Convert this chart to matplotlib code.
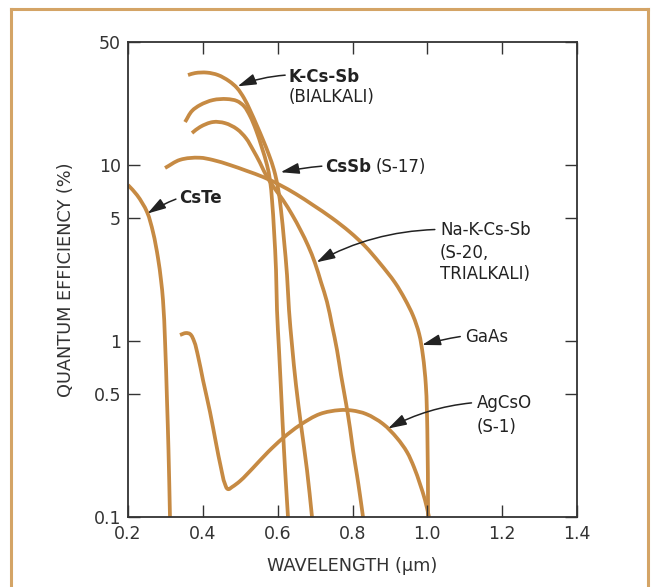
import matplotlib
matplotlib.use("Agg")
import numpy as np
import matplotlib.pyplot as plt
from matplotlib.lines import Line2D
from matplotlib.path import Path
from matplotlib.patches import PathPatch

plt.rcParams['font.family'] = ['DejaVu Sans']

# ---------------- data ----------------
cste_x = [0.2, 0.2241, 0.2508, 0.2668, 0.2802, 0.2882, 0.2935, 0.2989, 0.3042, 0.3082, 0.3122]
cste_y = [7.70, 6.75, 5.41, 4.16, 2.96, 2.22, 1.71, 1.01, 0.462, 0.240, 0.1]

bialkali_x = [0.3604, 0.3791, 0.4111, 0.4405, 0.4699, 0.4913, 0.5100, 0.5261, 0.5448,
              0.5608, 0.5768, 0.5902, 0.6009, 0.6089, 0.6169, 0.6250, 0.6303, 0.6383,
              0.6490, 0.6624, 0.6784, 0.6918]
bialkali_y = [32.45, 33.3, 33.5, 32.45, 30.0, 27.4, 24.0, 20.5, 16.7,
              13.9, 11.4, 9.37, 7.40, 5.55, 3.75, 2.37, 1.50, 0.949,
              0.562, 0.333, 0.185, 0.1]

cssb_x = [0.3525, 0.3711, 0.3924, 0.4272, 0.4646, 0.4913, 0.5100, 0.5261, 0.5421,
          0.5581, 0.5715, 0.5795, 0.5849, 0.5902, 0.5956, 0.5982, 0.6036, 0.6089,
          0.6169, 0.6223, 0.6276]
cssb_y = [17.55, 20.3, 21.9, 23.4, 23.7, 23.1, 21.6, 19.0, 15.8,
          12.5, 10.0, 8.22, 6.32, 4.27, 2.53, 1.50, 0.889, 0.527,
          0.240, 0.152, 0.1]

s20_x = [0.3711, 0.3924, 0.4272, 0.4592, 0.4913, 0.5154, 0.5341, 0.5528, 0.5715,
         0.5929, 0.6143, 0.6391, 0.6610, 0.6816, 0.6998, 0.7158, 0.7318, 0.7452,
         0.7586, 0.7693, 0.7826, 0.7933, 0.8013, 0.8120, 0.8200, 0.8281]
s20_y = [15.2, 16.44, 17.55, 17.3, 16.0, 14.2, 12.2, 10.3, 8.55,
         7.31, 6.32, 5.20, 4.27, 3.47, 2.77, 2.16, 1.67, 1.23,
         0.889, 0.641, 0.444, 0.320, 0.240, 0.173, 0.133, 0.1]

gaas_x = [0.299, 0.339, 0.392, 0.427, 0.4726, 0.518, 0.561, 0.606, 0.649, 0.694,
          0.745, 0.793, 0.833, 0.873, 0.914, 0.940, 0.962, 0.978, 0.988, 0.996,
          1.000, 1.002]
gaas_y = [9.62, 10.7, 11.0, 10.68, 10.0, 9.25, 8.55, 7.70, 6.84, 5.93,
          5.00, 4.16, 3.47, 2.77, 2.14, 1.73, 1.39, 1.10, 0.833, 0.562,
          0.312, 0.1]

agcso_x = [0.339, 0.355, 0.3657, 0.3764, 0.3871, 0.4004, 0.4192, 0.4352, 0.4486, 0.4592,
           0.4673, 0.4780, 0.4993, 0.5341, 0.5742, 0.6143, 0.6597, 0.7131, 0.7666,
           0.7986, 0.8361, 0.8815, 0.9189, 0.9456, 0.9643, 0.9804, 0.9937, 1.0045]
agcso_y = [1.082, 1.11, 1.096, 1.0, 0.822, 0.600, 0.395, 0.263, 0.190, 0.154,
           0.144, 0.148, 0.160, 0.190, 0.234, 0.281, 0.333, 0.385, 0.405,
           0.403, 0.385, 0.338, 0.281, 0.234, 0.192, 0.154, 0.125, 0.1]

x_ticks = [0.2, 0.4, 0.6, 0.8, 1.0, 1.2, 1.4]
x_tick_labels = ["0.2", "0.4", "0.6", "0.8", "1.0", "1.2", "1.4"]
y_ticks = [0.1, 0.5, 1, 5, 10, 50]
y_tick_labels = ["0.1", "0.5", "1", "5", "10", "50"]

# ---------------- figure ----------------
W, H = 654, 587
fig = plt.figure(figsize=(W / 100, H / 100), dpi=100)
fig.patch.set_facecolor("white")

ax = fig.add_axes([128 / W, 1 - 517 / H, (577 - 128) / W, (517 - 42) / H])
ax.set_yscale("log")
ax.set_xlim(0.2, 1.4)
ax.set_ylim(0.1, 50)

curve_color = "#C68A43"


def smooth_curve(xs, ys):
    """Draw the read points as one smooth Bezier path through them.
    Tangents are estimated in the axes' display space; matplotlib renders it."""
    P = ax.transData.transform(np.column_stack([xs, ys]))
    n = len(P)
    seg = np.diff(P, axis=0)
    d = np.hypot(seg[:, 0], seg[:, 1])
    u = seg / d[:, None]
    T = np.zeros_like(P)
    T[0], T[-1] = u[0], u[-1]
    for i in range(1, n - 1):
        t = u[i - 1] + u[i]
        T[i] = t / np.hypot(*t)
    verts = [P[0]]
    codes = [Path.MOVETO]
    for i in range(n - 1):
        verts += [P[i] + T[i] * d[i] / 3, P[i + 1] - T[i + 1] * d[i] / 3, P[i + 1]]
        codes += [Path.CURVE4] * 3
    V = ax.transData.inverted().transform(np.array(verts))
    ax.add_patch(PathPatch(Path(V, codes), fill=False, edgecolor=curve_color, lw=2.7,
                           capstyle="butt", joinstyle="round", transform=ax.transData))


for xs, ys in [(cste_x, cste_y), (bialkali_x, bialkali_y), (cssb_x, cssb_y),
               (s20_x, s20_y), (gaas_x, gaas_y), (agcso_x, agcso_y)]:
    smooth_curve(xs, ys)

ax.set_xticks(x_ticks)
ax.set_xticklabels(x_tick_labels)
ax.set_yticks(y_ticks)
ax.set_yticklabels(y_tick_labels)
ax.minorticks_off()
ax.tick_params(axis="both", which="major", direction="in", length=8.5, width=1.0,
               color="#333333", labelsize=12.5, labelcolor="#333333",
               top=True, right=True)
ax.tick_params(axis="x", pad=6)
ax.tick_params(axis="y", pad=5)

for s in ax.spines.values():
    s.set_color("#333333")
    s.set_linewidth(1.3)

ax.set_xlabel("WAVELENGTH (\u03bcm)", fontsize=12.8, color="#333333")
ax.xaxis.set_label_coords(0.5, -0.084)
ax.xaxis.label.set_va("top")
ax.set_ylabel("QUANTUM EFFICIENCY (%)", fontsize=12.8, color="#333333")
ax.yaxis.set_label_coords(-0.118, 0.5)

# ---------------- annotations ----------------
txt_kw = dict(fontsize=12, color="#222222", ha="left", va="center")
arrow_kw = dict(arrowstyle="-|>,head_length=0.8,head_width=0.24", color="#222222",
                lw=1.1, shrinkA=0, shrinkB=0, mutation_scale=14)


def arrow(tip, tail, rad):
    ax.annotate("", xy=tip, xytext=tail,
                arrowprops=dict(connectionstyle=f"arc3,rad={rad}", **arrow_kw))


arrow((0.493, 28.0), (0.620, 32.4), 0.08)
ax.text(0.628, 31.6, "K-Cs-Sb", fontweight="bold", **txt_kw)
ax.text(0.628, 24.3, "(BIALKALI)", **txt_kw)

arrow((0.608, 9.1), (0.718, 9.85), 0.03)
ax.text(0.727, 9.75, "CsSb", fontweight="bold", **txt_kw)
ax.text(0.862, 9.75, "(S-17)", **txt_kw)

arrow((0.252, 5.3), (0.328, 6.4), 0.05)
ax.text(0.337, 6.5, "CsTe", fontweight="bold", **txt_kw)

arrow((0.704, 2.80), (1.020, 4.30), 0.12)
ax.text(1.034, 4.27, "Na-K-Cs-Sb", **txt_kw)
ax.text(1.034, 3.18, "(S-20,", **txt_kw)
ax.text(1.034, 2.40, "TRIALKALI)", **txt_kw)

arrow((0.986, 0.95), (1.088, 1.06), 0.03)
ax.text(1.101, 1.05, "GaAs", **txt_kw)

arrow((0.895, 0.318), (1.118, 0.445), 0.1)
ax.text(1.133, 0.445, "AgCsO", **txt_kw)
ax.text(1.133, 0.324, "(S-1)", **txt_kw)

# ---------------- outer frame ----------------
frame_c = "#D4A466"
for xs_, ys_ in [([11 / W, 11 / W], [0, 1 - 9 / H]),
                 ([648 / W, 648 / W], [0, 1 - 9 / H]),
                 ([11 / W, 648 / W], [1 - 9 / H, 1 - 9 / H])]:
    fig.add_artist(Line2D(xs_, ys_, transform=fig.transFigure, color=frame_c, lw=2.2))

fig.savefig("out.png", dpi=100, facecolor="white")
